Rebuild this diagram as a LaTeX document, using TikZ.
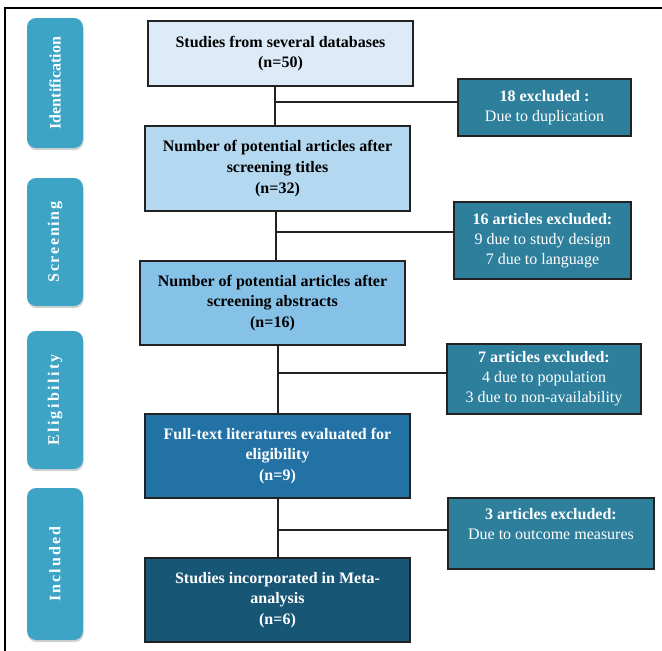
\documentclass[tikz,border=0pt]{standalone}
\usepackage{fontspec}
\setmainfont{Liberation Serif}
\usetikzlibrary{shadows}
\definecolor{cside}{HTML}{3DA4C6}
\definecolor{cexcl}{HTML}{2E7F9C}
\definecolor{cbA}{HTML}{DCEBF7}
\definecolor{cbB}{HTML}{B4D8F0}
\definecolor{cbC}{HTML}{86C2E8}
\definecolor{cbD}{HTML}{2372A6}
\definecolor{cbE}{HTML}{185676}
\definecolor{cline}{HTML}{222222}
\tikzset{
  mainbox/.style={draw=cline, line width=1.4pt, align=center, inner sep=0pt,
    font=\fontsize{16}{20.8}\selectfont\bfseries},
  exclbox/.style={draw=cline, line width=1.4pt, fill=cexcl, text=white, align=center, inner sep=0pt,
    font=\fontsize{16}{20}\selectfont},
  sidebox/.style={fill=cside, rounded corners=9pt, text=white, rotate=90, inner sep=0pt,
    minimum height=56pt, font=\fontsize{16}{18}\selectfont\bfseries,
    drop shadow={shadow xshift=0.6pt, shadow yshift=-2.2pt, opacity=0.35}},
  conn/.style={draw=cline, line width=1.2pt},
}
\begin{document}
\begin{tikzpicture}[x=1pt,y=-1pt]
\useasboundingbox (0,0) rectangle (662,651);
\draw[line width=1.5pt] (5,651) -- (5,8) -- (662,8);
% side labels
\node[sidebox, minimum width=130pt] (sid) at (55,83) {Identification};
\node[sidebox, minimum width=128pt] (sscr) at (55,242) {\addfontfeature{LetterSpace=10.5}Screening};
\node[sidebox, minimum width=138pt] (selig) at (55,400) {\addfontfeature{LetterSpace=15}Eligibility};
\node[sidebox, minimum width=152pt] (sinc) at (55,564) {\addfontfeature{LetterSpace=12.5}Included};
% main boxes
\node[mainbox, fill=cbA, minimum width=265pt, minimum height=65pt] (b1) at (280.5,53.5) {Studies from several databases\\(n=50)};
\node[mainbox, fill=cbB, minimum width=265pt, minimum height=85pt] (b2) at (277.5,168.5) {Number of potential articles after\\screening titles\\(n=32)};
\node[mainbox, fill=cbC, minimum width=265pt, minimum height=84pt] (b3) at (272.5,303) {Number of potential articles after\\screening abstracts\\(n=16)};
\node[mainbox, fill=cbD, text=white, minimum width=265pt, minimum height=84pt] (b4) at (277.5,456) {Full-text literatures evaluated for\\eligibility\\(n=9)};
\node[mainbox, fill=cbE, text=white, minimum width=265pt, minimum height=84pt] (b5) at (277.5,600) {Studies incorporated in Meta-\\analysis\\(n=6)};
% exclusion boxes
\node[exclbox, minimum width=173pt, minimum height=57pt] (e1) at (544.5,107.5) {\textbf{18 excluded :}\\Due to duplication};
\node[exclbox, minimum width=177pt, minimum height=77pt] (e2) at (542.5,240.5) {\textbf{16 articles excluded:}\\9 due to study design\\7 due to language};
\node[exclbox, minimum width=194pt, minimum height=70pt] (e3) at (544,379) {\textbf{7 articles excluded:}\\4 due to population\\3 due to non-availability};
\node[exclbox, minimum width=206pt, minimum height=71pt] (e4) at (551,533.5) {\textbf{3 articles excluded:}\\Due to outcome measures\\\mbox{}};
% junctions
\coordinate (j1) at (275,102);
\coordinate (j2) at (276,232);
\coordinate (j3) at (278,373);
\coordinate (j4) at (278,530);
% connectors
\draw[conn] (b1.south -| j1) -- (b2.north -| j1);
\draw[conn] (j1) -- (j1 -| e1.west);
\draw[conn] (b2.south -| j2) -- (b3.north -| j2);
\draw[conn] (j2) -- (j2 -| e2.west);
\draw[conn] (b3.south -| j3) -- (b4.north -| j3);
\draw[conn] (j3) -- (j3 -| e3.west);
\draw[conn] (b4.south -| j4) -- (b5.north -| j4);
\draw[conn] (j4) -- (j4 -| e4.west);
\end{tikzpicture}
\end{document}
